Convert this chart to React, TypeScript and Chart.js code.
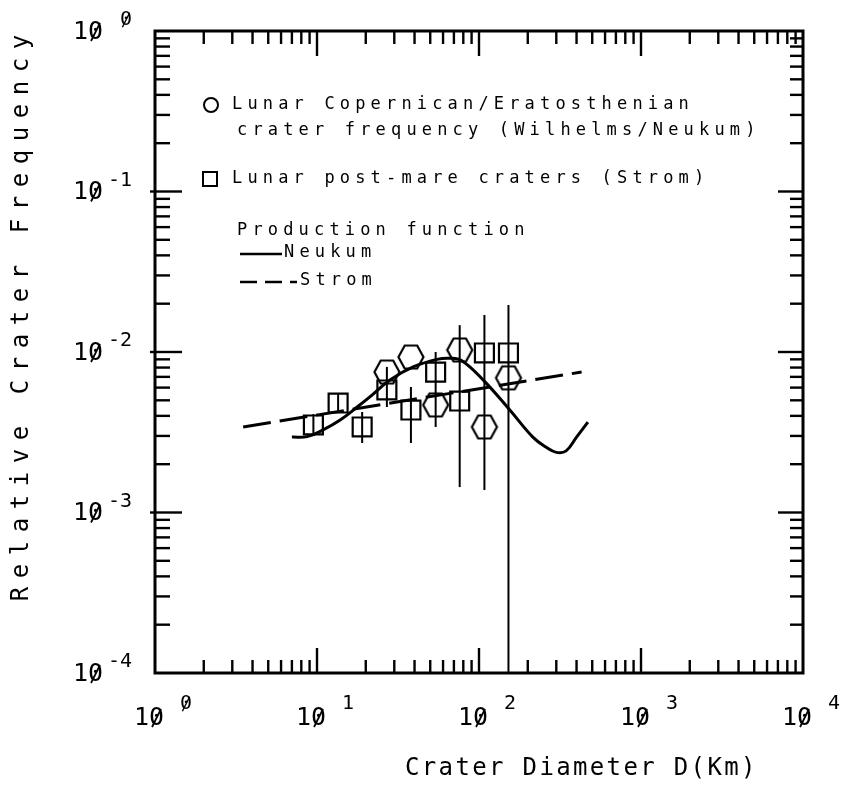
import React, { useEffect, useRef } from 'react';
import { Chart, registerables } from 'chart.js';

Chart.register(...registerables);

// Production function (Neukum), relative crater frequency vs diameter (km)
const neukumDiam = [7.0, 8.7, 10.9, 13.9, 17.7, 21.2, 28.2, 39.2, 55, 66, 78, 106, 155, 215, 260, 300, 345, 400, 470];
const neukumFreq = [2.95e-3, 2.97e-3, 3.27e-3, 3.77e-3, 4.54e-3, 5.25e-3, 6.69e-3, 8.07e-3, 9.0e-3, 9.15e-3, 8.85e-3, 6.7e-3, 4.35e-3, 2.95e-3, 2.55e-3, 2.37e-3, 2.42e-3, 2.95e-3, 3.66e-3];

// Production function (Strom)
const stromLineDiam = [3.5, 430];
const stromLineFreq = [3.41e-3, 7.5e-3];

// Lunar Copernican/Eratosthenian crater frequency (Wilhelms/Neukum)
const copDiam = [27, 38, 54, 76, 108, 152];
const copFreq = [7.5e-3, 9.3e-3, 4.68e-3, 1.03e-2, 3.41e-3, 6.9e-3];
const copLow: (number | null)[] = [null, null, 3.41e-3, null, 1.38e-3, null];
const copHigh: (number | null)[] = [null, null, 1.0e-2, null, 1.7e-2, null];

// Lunar post-mare craters (Strom)
const postMareDiam = [9.5, 13.5, 19, 27, 38, 54, 76, 108, 152];
const postMareFreq = [3.51e-3, 4.81e-3, 3.41e-3, 5.8e-3, 4.35e-3, 7.5e-3, 4.95e-3, 9.86e-3, 9.86e-3];
const postMareLow: (number | null)[] = [3.0e-3, 4.2e-3, 2.71e-3, 4.54e-3, 2.71e-3, null, 1.44e-3, null, 5e-5];
const postMareHigh: (number | null)[] = [4.1e-3, 5.5e-3, 4.23e-3, 8.07e-3, 6.05e-3, null, 1.47e-2, null, 1.96e-2];

// Axis decades
const xExponents = [0, 1, 2, 3, 4];
const yExponents = [0, -1, -2, -3, -4];

const xTitle = 'Crater Diameter D(Km)';
const yTitle = 'Relative Crater Frequency';
const legendCop = ['Lunar Copernican/Eratosthenian', 'crater frequency (Wilhelms/Neukum)'];
const legendPostMare = 'Lunar post-mare craters (Strom)';
const legendProduction = 'Production function';
const legendNeukum = 'Neukum';
const legendStrom = 'Strom';

const MONO = '"DejaVu Sans Mono", "Liberation Mono", monospace';

function makeHexMarker(): HTMLCanvasElement {
  const c = document.createElement('canvas');
  c.width = 30;
  c.height = 30;
  const g = c.getContext('2d')!;
  const cx = 15, cy = 15, rx = 12.5, hy = 11.5;
  g.strokeStyle = '#000';
  g.lineWidth = 2.2;
  g.beginPath();
  g.moveTo(cx - rx, cy);
  g.lineTo(cx - rx / 2, cy - hy);
  g.lineTo(cx + rx / 2, cy - hy);
  g.lineTo(cx + rx, cy);
  g.lineTo(cx + rx / 2, cy + hy);
  g.lineTo(cx - rx / 2, cy + hy);
  g.closePath();
  g.stroke();
  return c;
}

// Monospaced text placed on a fixed character pitch; zeros get the plotter slash.
function drawSpaced(ctx: CanvasRenderingContext2D, text: string, x: number, y: number, adv: number, slashZero = false, size = 0) {
  for (let i = 0; i < text.length; i++) {
    const cx = x + i * adv;
    ctx.fillText(text[i], cx, y);
    if (slashZero && text[i] === '0') {
      const w = ctx.measureText('0').width;
      const h = size * 0.36;
      ctx.save();
      ctx.lineWidth = Math.max(1.4, size * 0.07);
      ctx.beginPath();
      ctx.moveTo(cx + w * 0.2, y + h);
      ctx.lineTo(cx + w * 0.8, y - h);
      ctx.stroke();
      ctx.restore();
    }
  }
}

function expText(e: number) {
  return (e < 0 ? '-' : ' ') + String(Math.abs(e));
}

const errorBars = {
  id: 'errorBars',
  beforeDatasetsDraw(chart: any) {
    const { ctx, chartArea: a } = chart;
    const xs = chart.scales.x, ys = chart.scales.y;
    ctx.save();
    ctx.beginPath();
    ctx.rect(a.left, a.top, a.right - a.left, a.bottom - a.top);
    ctx.clip();
    ctx.strokeStyle = '#000';
    ctx.lineWidth = 2;
    const draw = (d: number[], lo: (number | null)[], hi: (number | null)[]) => {
      d.forEach((v, i) => {
        if (lo[i] == null || hi[i] == null) return;
        const px = xs.getPixelForValue(v);
        ctx.beginPath();
        ctx.moveTo(px, ys.getPixelForValue(hi[i]));
        ctx.lineTo(px, ys.getPixelForValue(lo[i]));
        ctx.stroke();
      });
    };
    draw(copDiam, copLow, copHigh);
    draw(postMareDiam, postMareLow, postMareHigh);
    ctx.restore();
  },
};

const frame = {
  id: 'frame',
  afterDraw(chart: any) {
    const { ctx, chartArea: a } = chart;
    const xs = chart.scales.x, ys = chart.scales.y;
    ctx.save();
    ctx.strokeStyle = '#000';
    ctx.fillStyle = '#000';

    // plot frame
    ctx.lineWidth = 3;
    ctx.strokeRect(a.left, a.top, a.right - a.left, a.bottom - a.top);

    // inward ticks on all four sides
    ctx.lineWidth = 2.4;
    const line = (x1: number, y1: number, x2: number, y2: number) => {
      ctx.beginPath();
      ctx.moveTo(x1, y1);
      ctx.lineTo(x2, y2);
      ctx.stroke();
    };
    for (let d = 0; d < 4; d++) {
      for (let m = 1; m <= 9; m++) {
        if (m === 1 && d === 0) continue;
        const px = xs.getPixelForValue(m * Math.pow(10, d));
        const len = m === 1 ? 25 : 13;
        line(px, a.top, px, a.top + len);
        line(px, a.bottom, px, a.bottom - len);
      }
    }
    for (let d = -4; d < 0; d++) {
      for (let m = 1; m <= 9; m++) {
        if (m === 1 && d === -4) continue;
        const py = ys.getPixelForValue(m * Math.pow(10, d));
        if (m === 1) {
          line(a.left - 5, py, a.left + 27, py);
          line(a.right, py, a.right - 25, py);
        } else {
          line(a.left, py, a.left + 15, py);
          line(a.right, py, a.right - 13, py);
        }
      }
    }

    // tick labels
    ctx.textBaseline = 'middle';
    ctx.textAlign = 'left';
    xExponents.forEach((e) => {
      const px = xs.getPixelForValue(Math.pow(10, e));
      ctx.font = `25px ${MONO}`;
      drawSpaced(ctx, '10', px - 21, a.bottom + 45, 15, true, 25);
      ctx.font = `20px ${MONO}`;
      drawSpaced(ctx, expText(e), px + 13, a.bottom + 31, 12, true, 20);
    });
    yExponents.forEach((e) => {
      const py = ys.getPixelForValue(Math.pow(10, e));
      ctx.font = `25px ${MONO}`;
      drawSpaced(ctx, '10', a.left - 82, py + 1, 15, true, 25);
      ctx.font = `20px ${MONO}`;
      drawSpaced(ctx, expText(e), a.left - 47, py - 11, 12, true, 20);
    });

    // axis titles
    ctx.font = `24px ${MONO}`;
    drawSpaced(ctx, xTitle, 405, 769, 16.8);
    ctx.save();
    ctx.translate(22, 318);
    ctx.rotate(-Math.PI / 2);
    const charW = ctx.measureText('M').width;
    const total = (yTitle.length - 1) * 23 + charW;
    drawSpaced(ctx, yTitle, -total / 2, 0, 23);
    ctx.restore();

    // legend
    ctx.font = `17px ${MONO}`;
    const adv = 15.4;
    ctx.lineWidth = 2;
    ctx.beginPath();
    ctx.arc(211, 105, 7, 0, Math.PI * 2);
    ctx.stroke();
    drawSpaced(ctx, legendCop[0], 232, 105, adv);
    drawSpaced(ctx, legendCop[1], 237, 131, adv);
    ctx.strokeRect(203, 172, 14, 14);
    drawSpaced(ctx, legendPostMare, 232, 179, adv);
    drawSpaced(ctx, legendProduction, 237, 231, adv);
    ctx.lineWidth = 2.5;
    line(240, 254, 282, 254);
    drawSpaced(ctx, legendNeukum, 284, 253, adv);
    line(240, 282, 257, 282);
    line(265, 282, 282, 282);
    line(290, 282, 297, 282);
    drawSpaced(ctx, legendStrom, 300, 281, adv);

    ctx.restore();
  },
};

export default function App() {
  const ref = useRef<HTMLCanvasElement>(null);

  useEffect(() => {
    const hex = makeHexMarker();
    const chart = new Chart(ref.current!, {
      type: 'scatter',
      data: {
        datasets: [
          {
            label: 'Neukum',
            data: neukumDiam.map((x, i) => ({ x, y: neukumFreq[i] })),
            showLine: true,
            borderColor: '#000',
            borderWidth: 3,
            pointRadius: 0,
            tension: 0.4,
          },
          {
            label: 'Strom',
            data: stromLineDiam.map((x, i) => ({ x, y: stromLineFreq[i] })),
            showLine: true,
            borderColor: '#000',
            borderWidth: 3,
            borderDash: [28, 9],
            pointRadius: 0,
          },
          {
            label: 'Lunar Copernican/Eratosthenian crater frequency (Wilhelms/Neukum)',
            data: copDiam.map((x, i) => ({ x, y: copFreq[i] })),
            pointStyle: hex as any,
            pointRadius: 12,
          },
          {
            label: 'Lunar post-mare craters (Strom)',
            data: postMareDiam.map((x, i) => ({ x, y: postMareFreq[i] })),
            pointStyle: 'rect',
            pointRadius: 13.4,
            borderColor: '#000',
            borderWidth: 2.2,
            backgroundColor: 'rgba(0,0,0,0)',
          },
        ],
      },
      options: {
        animation: false,
        responsive: false,
        layout: { padding: { left: 155, right: 49, top: 31, bottom: 113 } },
        scales: {
          x: { type: 'logarithmic', min: 1, max: 1e4, display: false },
          y: { type: 'logarithmic', min: 1e-4, max: 1, display: false },
        },
        plugins: { legend: { display: false }, tooltip: { enabled: false } },
      },
      plugins: [errorBars, frame],
    });
    return () => chart.destroy();
  }, []);

  return (
    <div style={{ position: 'fixed', left: 0, top: 0, width: 852, height: 786, background: '#fff' }}>
      <canvas ref={ref} width={852} height={786} style={{ display: 'block' }} />
    </div>
  );
}
